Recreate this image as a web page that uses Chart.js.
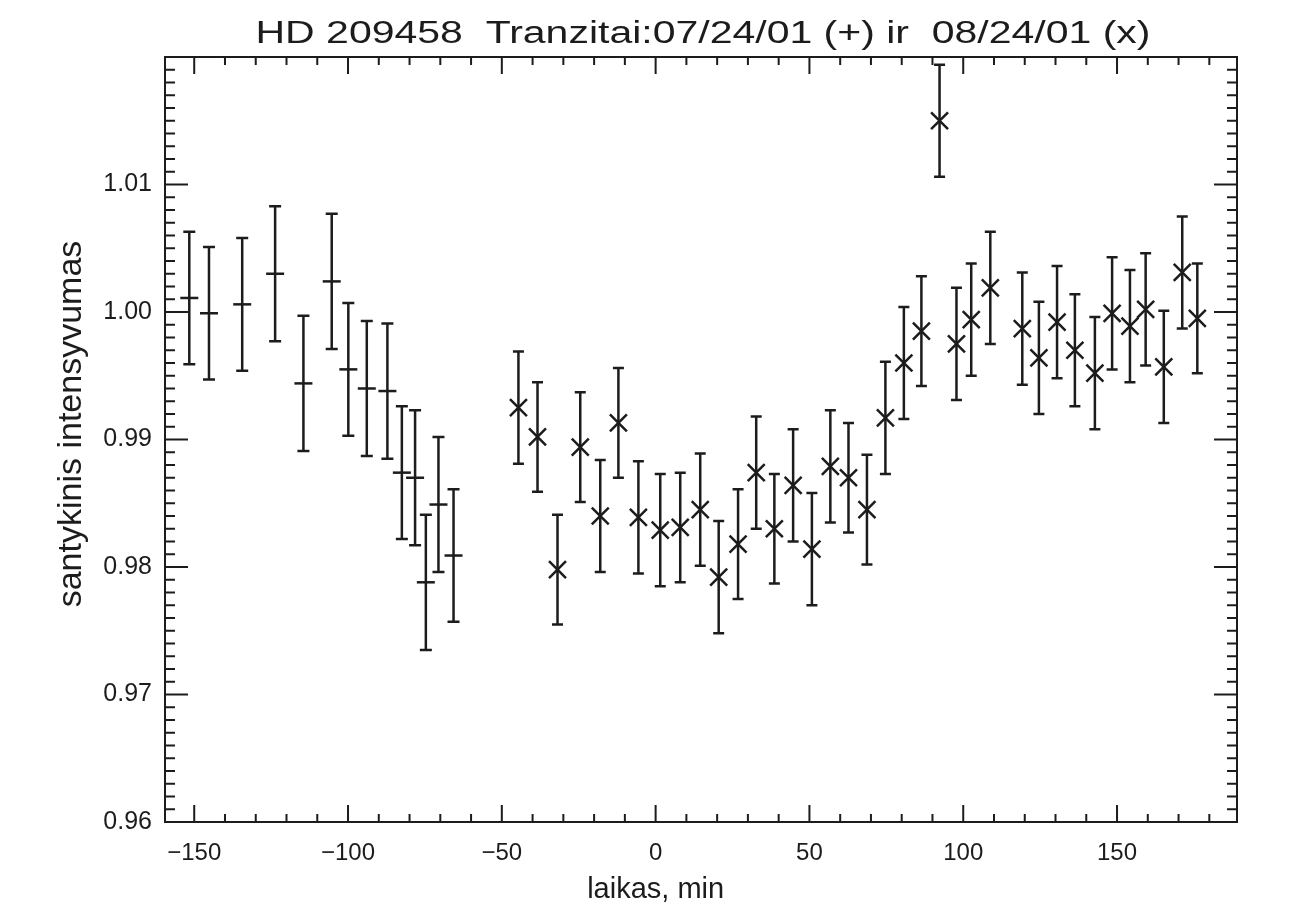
<!DOCTYPE html>
<html>
<head>
<meta charset="utf-8">
<script src="https://cdn.jsdelivr.net/npm/chart.js@4.4.0/dist/chart.umd.min.js"></script>
<style>
html, body { margin: 0; padding: 0; background: #fff; }
#wrap { width: 1293px; height: 917px; }
</style>
</head>
<body>
<div id="wrap"><canvas id="chart"></canvas></div>
<script>
const titleText = 'HD 209458  Tranzitai:07/24/01 (+) ir  08/24/01 (x)';
const xLabel = 'laikas, min';
const yLabel = 'santykinis intensyvumas';

// first transit 07/24/01 (+)
const t1Time = [-151.6, -145.2, -134.4, -123.7, -114.5, -105.3, -99.9, -93.9, -87.2, -82.5, -78.2, -74.7, -70.6, -65.7];
const t1Flux = [1.0011, 0.9999, 1.0006, 1.0030, 0.9944, 1.0024, 0.9955, 0.9940, 0.9938, 0.9874, 0.9870, 0.9788, 0.9849, 0.9809];
const t1Err = [0.0052, 0.0052, 0.0052, 0.0053, 0.0053, 0.0053, 0.0052, 0.0053, 0.0053, 0.0052, 0.0053, 0.0053, 0.0053, 0.0052];

// second transit 08/24/01 (x)
const t2Time = [-44.6, -38.4, -31.9, -24.5, -18.0, -12.1, -5.6, 1.5, 8.0, 14.5, 20.5, 26.8, 32.7, 38.6, 44.7, 50.8, 56.8, 62.7, 68.7, 74.7,
  80.7, 86.4, 92.3, 97.8, 102.6, 108.8, 119.2, 124.6, 130.5, 136.3, 142.8, 148.4, 154.2, 159.3, 165.2, 171.2, 176.1];
const t2Flux = [0.9925, 0.9902, 0.9798, 0.9894, 0.9840, 0.9913, 0.9839, 0.9829, 0.9831, 0.9845, 0.9792, 0.9818, 0.9874, 0.9830, 0.9864, 0.9814, 0.9879, 0.9870, 0.9845, 0.9917,
  0.9960, 0.9985, 1.0150, 0.9975, 0.9994, 1.0019, 0.9987, 0.9964, 0.9992, 0.9970, 0.9952, 0.9999, 0.9989, 1.0002, 0.9957, 1.0031, 0.9995];
const t2Err = [0.0044, 0.0043, 0.0043, 0.0043, 0.0044, 0.0043, 0.0044, 0.0044, 0.0043, 0.0044, 0.0044, 0.0043, 0.0044, 0.0043, 0.0044, 0.0044, 0.0044, 0.0043, 0.0043, 0.0044,
  0.0044, 0.0043, 0.0044, 0.0044, 0.0044, 0.0044, 0.0044, 0.0044, 0.0044, 0.0044, 0.0044, 0.0044, 0.0044, 0.0044, 0.0044, 0.0044, 0.0043];

const xTicks = [-150, -100, -50, 0, 50, 100, 150];
const yTicks = [0.96, 0.97, 0.98, 0.99, 1.00, 1.01];

const ink = '#1c1c1c';
const sans = '"Liberation Sans", Arial, sans-serif';

function toPoints(xs, ys, es) {
    return xs.map((x, i) => ({ x: x, y: ys[i], err: es[i] }));
}

// vertical error bars with small caps
const errorBars = {
    id: 'errorBars',
    beforeDatasetsDraw(chart) {
        const ctx = chart.ctx;
        const xs = chart.scales.x;
        const ys = chart.scales.y;
        ctx.save();
        ctx.strokeStyle = ink;
        ctx.lineWidth = 2.5;
        chart.data.datasets.forEach((ds) => {
            const cap = ds.capWidth;
            for (const p of ds.data) {
                const px = xs.getPixelForValue(p.x);
                const top = ys.getPixelForValue(p.y + p.err);
                const bot = ys.getPixelForValue(p.y - p.err);
                ctx.beginPath();
                ctx.moveTo(px, top);
                ctx.lineTo(px, bot);
                ctx.moveTo(px - cap, top);
                ctx.lineTo(px + cap, top);
                ctx.moveTo(px - cap, bot);
                ctx.lineTo(px + cap, bot);
                ctx.stroke();
            }
        });
        ctx.restore();
    }
};

// IDL style box with inward ticks on all four sides, plus the texts
const frame = {
    id: 'frame',
    afterDraw(chart) {
        const ctx = chart.ctx;
        const a = chart.chartArea;
        const xs = chart.scales.x;
        const ys = chart.scales.y;
        ctx.save();
        ctx.strokeStyle = ink;
        ctx.lineWidth = 2;
        ctx.strokeRect(a.left, a.top, a.right - a.left, a.bottom - a.top);

        ctx.beginPath();
        for (let v = -150; v <= 180; v += 10) {
            const px = xs.getPixelForValue(v);
            const len = (v % 50 === 0) ? 17 : 8;
            ctx.moveTo(px, a.bottom);
            ctx.lineTo(px, a.bottom - len);
            ctx.moveTo(px, a.top);
            ctx.lineTo(px, a.top + len);
        }
        for (let i = 0; i <= 60; i++) {
            const v = 0.96 + i * 0.001;
            const py = ys.getPixelForValue(v);
            const len = (i % 10 === 0) ? 23 : 10;
            ctx.moveTo(a.left, py);
            ctx.lineTo(a.left + len, py);
            ctx.moveTo(a.right, py);
            ctx.lineTo(a.right - len, py);
        }
        ctx.stroke();

        ctx.fillStyle = ink;
        ctx.textAlign = 'center';
        ctx.textBaseline = 'alphabetic';
        // the original title is drawn wide, stretch it to the same span
        ctx.font = '31px ' + sans;
        const w = ctx.measureText(titleText).width;
        ctx.save();
        ctx.translate((a.left + a.right) / 2 + 2, 43);
        ctx.scale(895 / w, 1);
        ctx.fillText(titleText, 0, 0);
        ctx.restore();

        ctx.font = '29px ' + sans;
        ctx.fillText(xLabel, xs.getPixelForValue(0), 898);

        ctx.save();
        ctx.translate(81, 424);
        ctx.rotate(-Math.PI / 2);
        ctx.font = '34px ' + sans;
        ctx.fillText(yLabel, 0, 0);
        ctx.restore();
        ctx.restore();
    }
};

new Chart(document.getElementById('chart'), {
    type: 'scatter',
    data: {
        datasets: [
            {
                label: '07/24/01 (+)',
                data: toPoints(t1Time, t1Flux, t1Err),
                pointStyle: 'line',
                pointRadius: 9,
                pointBorderWidth: 2.5,
                borderColor: ink,
                backgroundColor: ink,
                capWidth: 6
            },
            {
                label: '08/24/01 (x)',
                data: toPoints(t2Time, t2Flux, t2Err),
                pointStyle: 'crossRot',
                pointRadius: 12,
                pointBorderWidth: 2.5,
                borderColor: ink,
                backgroundColor: ink,
                capWidth: 5.5
            }
        ]
    },
    options: {
        responsive: true,
        maintainAspectRatio: false,
        animation: false,
        layout: { padding: { top: 57, right: 56, left: 0, bottom: 0 } },
        plugins: {
            legend: { display: false },
            tooltip: { enabled: false },
            title: { display: false }
        },
        scales: {
            x: {
                type: 'linear',
                min: -159.5,
                max: 189,
                afterBuildTicks: (s) => { s.ticks = xTicks.map(v => ({ value: v })); },
                afterFit: (s) => { s.height = 95; },
                grid: { display: false, drawTicks: false },
                border: { display: false },
                ticks: {
                    padding: 17,
                    color: ink,
                    font: { family: sans, size: 24 },
                    callback: (v) => (v < 0 ? '\u2212' + Math.abs(v) : String(v))
                }
            },
            y: {
                type: 'linear',
                min: 0.96,
                max: 1.02,
                afterBuildTicks: (s) => { s.ticks = yTicks.map(v => ({ value: v })); },
                afterFit: (s) => { s.width = 165; },
                grid: { display: false, drawTicks: false },
                border: { display: false },
                ticks: {
                    padding: 13,
                    color: ink,
                    font: { family: sans, size: 25 },
                    callback: (v) => Number(v).toFixed(2)
                }
            }
        }
    },
    plugins: [errorBars, frame]
});
</script>
</body>
</html>
